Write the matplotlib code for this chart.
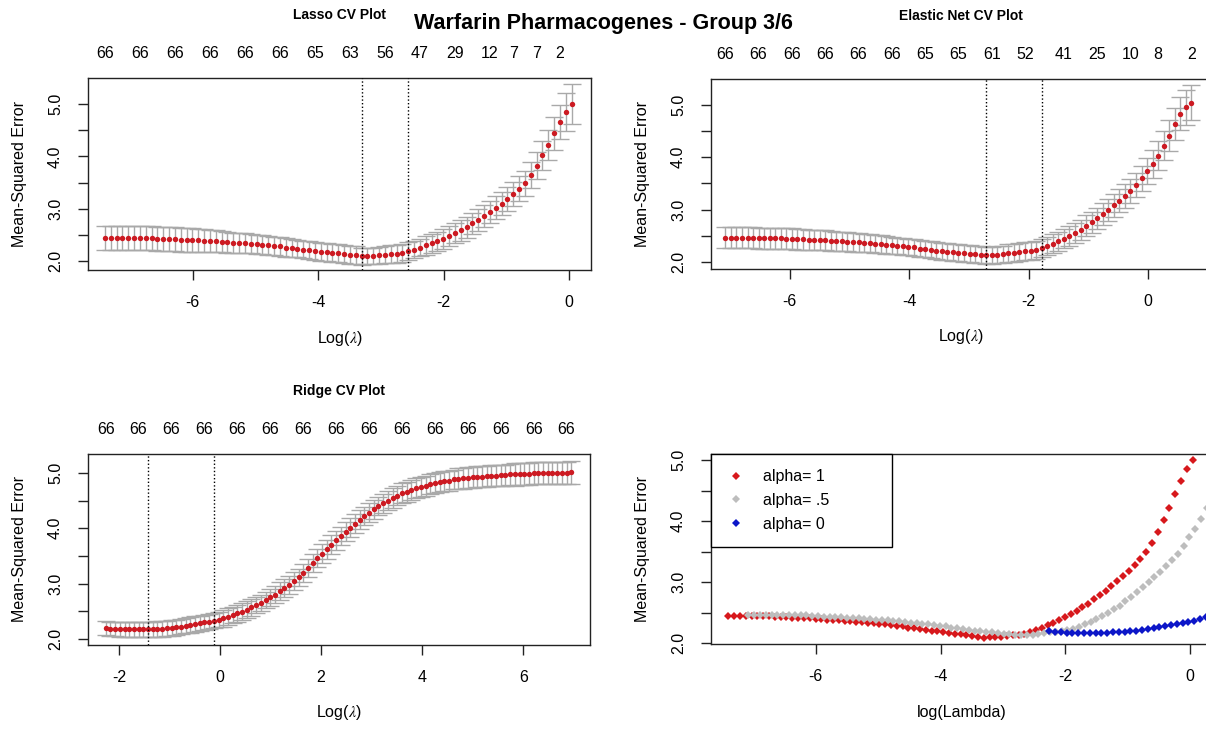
import numpy as np
import matplotlib
matplotlib.use("Agg")
import matplotlib.pyplot as plt

# cv.glmnet results, ordered left -> right (increasing log lambda)
lasso_loglam = np.linspace(-7.40, 0.04, 81)
lasso_cvm = [2.45, 2.45, 2.45, 2.45, 2.45, 2.45, 2.45, 2.45, 2.44,
             2.43, 2.43, 2.42, 2.42, 2.41, 2.41, 2.40, 2.40,
             2.39, 2.39, 2.38, 2.37, 2.36, 2.35, 2.35, 2.34,
             2.33, 2.32, 2.31, 2.30, 2.29, 2.28, 2.26, 2.25,
             2.24, 2.22, 2.21, 2.20, 2.18, 2.17, 2.16, 2.15,
             2.14, 2.12, 2.11, 2.09,
             2.10, 2.10, 2.11, 2.12, 2.13, 2.14, 2.16,
             2.19, 2.22, 2.26, 2.30, 2.34, 2.38, 2.43,
             2.48, 2.53, 2.59, 2.65, 2.72, 2.79, 2.86, 2.94, 3.02, 3.10, 3.19, 3.28, 3.38, 3.49,
             3.64, 3.82, 4.02, 4.22, 4.44, 4.66, 4.85, 5.00]
lasso_cvsd = [0.23, 0.23, 0.23, 0.23, 0.23, 0.23, 0.23, 0.23, 0.23, 0.23, 0.23, 0.23, 0.23, 0.23, 0.23, 0.23,
              0.22, 0.22, 0.21, 0.21, 0.20, 0.20, 0.19, 0.19, 0.19,
              0.18, 0.18, 0.18, 0.18, 0.18, 0.18, 0.18, 0.18,
              0.17, 0.17, 0.17, 0.17, 0.17, 0.17, 0.17, 0.17, 0.17, 0.17, 0.17, 0.17,
              0.16, 0.16, 0.16, 0.16, 0.17, 0.17, 0.17, 0.17,
              0.17, 0.17, 0.18, 0.18, 0.18, 0.19, 0.19, 0.19, 0.20, 0.20,
              0.20, 0.21, 0.21, 0.21, 0.22, 0.22, 0.23, 0.23, 0.24, 0.24,
              0.25, 0.26, 0.27, 0.29, 0.31, 0.33, 0.36, 0.38]
lasso_min, lasso_1se = 44, 52
lasso_nz_idx = [0, 6, 12, 18, 24, 30, 36, 42, 48, 54, 60, 66, 70, 74, 78]
lasso_nz = ["66", "66", "66", "66", "66", "66", "65", "63", "56", "47", "29", "12", "7", "7", "2"]

enet_loglam = np.linspace(-7.08, 0.73, 85)
enet_cvm = [2.47, 2.47, 2.47, 2.47, 2.47, 2.47, 2.46, 2.46, 2.46, 2.46,
            2.46, 2.45, 2.45, 2.44, 2.44, 2.43, 2.43, 2.42, 2.42, 2.41,
            2.40, 2.40, 2.39, 2.38, 2.38, 2.37, 2.36, 2.35, 2.34, 2.33,
            2.32, 2.31, 2.30, 2.29, 2.28, 2.26, 2.25, 2.24, 2.22, 2.21,
            2.20, 2.19, 2.18, 2.17, 2.16, 2.15, 2.14,
            2.13, 2.13, 2.14, 2.15, 2.17, 2.18, 2.19, 2.21, 2.22, 2.24,
            2.27, 2.31, 2.35, 2.40, 2.45, 2.50, 2.56, 2.62, 2.69, 2.76,
            2.84, 2.92, 3.00, 3.08, 3.17, 3.26, 3.36, 3.47, 3.60, 3.74,
            3.87, 4.03, 4.22, 4.41, 4.63, 4.83, 4.95, 5.04]
enet_cvsd = [0.20, 0.20, 0.20, 0.20, 0.20, 0.20, 0.20, 0.20, 0.20, 0.20, 0.20, 0.20, 0.20, 0.20, 0.20,
             0.19, 0.19, 0.19, 0.19, 0.19, 0.18, 0.18, 0.18, 0.18, 0.18, 0.17, 0.17, 0.17, 0.17, 0.17,
             0.16, 0.16, 0.16, 0.16, 0.16, 0.16, 0.16, 0.16, 0.16, 0.16, 0.16, 0.16, 0.16, 0.16, 0.16,
             0.16, 0.16, 0.16, 0.16, 0.16, 0.16, 0.17, 0.17, 0.17, 0.17, 0.17, 0.17,
             0.17, 0.17, 0.18, 0.18, 0.18, 0.19, 0.19, 0.19, 0.20, 0.20,
             0.20, 0.21, 0.21, 0.21, 0.22, 0.22, 0.23, 0.23, 0.24, 0.25,
             0.26, 0.27, 0.28, 0.29, 0.30, 0.31, 0.33, 0.34]
enet_min, enet_1se = 47, 57
enet_nz_idx = [0, 6, 12, 18, 24, 30, 36, 42, 48, 54, 61, 67, 73, 78, 84]
enet_nz = ["66", "66", "66", "66", "66", "66", "65", "65", "61", "52", "41", "25", "10", "8", "2"]

ridge_loglam = np.linspace(-2.26, 6.95, 100)
ridge_cvm = [2.20, 2.18, 2.18, 2.17, 2.17, 2.17, 2.17, 2.17, 2.17, 2.17,
             2.17, 2.18, 2.18, 2.19, 2.20, 2.21, 2.22, 2.24, 2.25, 2.27,
             2.28, 2.30, 2.31, 2.33, 2.35, 2.37, 2.40, 2.43, 2.46, 2.49,
             2.53, 2.57, 2.61, 2.65, 2.70, 2.75, 2.80, 2.86, 2.92, 2.98,
             3.04, 3.11, 3.19, 3.28, 3.37, 3.46, 3.54, 3.62, 3.70, 3.78,
             3.86, 3.94, 4.01, 4.08, 4.15, 4.22, 4.28, 4.34, 4.40, 4.45,
             4.50, 4.55, 4.59, 4.63, 4.66, 4.69, 4.72, 4.75, 4.77, 4.79,
             4.81, 4.83, 4.85, 4.86, 4.88, 4.89, 4.90, 4.91, 4.92, 4.93,
             4.93, 4.94, 4.95, 4.95, 4.96, 4.96, 4.97, 4.97, 4.98, 4.98,
             4.98, 4.99, 4.99, 4.99, 4.99, 5.00, 5.00, 5.00, 5.00, 5.01]
ridge_cvsd = [0.13, 0.13, 0.13, 0.13, 0.13, 0.13, 0.13, 0.13, 0.13, 0.13,
              0.14, 0.14, 0.14, 0.14, 0.14, 0.14, 0.14, 0.14, 0.14, 0.14,
              0.14, 0.14, 0.14, 0.14, 0.14, 0.15, 0.15, 0.15, 0.15, 0.15,
              0.15, 0.15, 0.15, 0.15, 0.15, 0.16, 0.16, 0.16, 0.16, 0.16,
              0.16, 0.16, 0.16, 0.16, 0.16, 0.17, 0.17, 0.17, 0.17, 0.17,
              0.17, 0.17, 0.17, 0.17, 0.17, 0.17, 0.17, 0.17, 0.17, 0.17,
              0.18, 0.18, 0.18, 0.18, 0.18, 0.18, 0.18, 0.18, 0.18, 0.18,
              0.18, 0.18, 0.18, 0.18, 0.18, 0.19, 0.19, 0.19, 0.19, 0.19,
              0.19, 0.19, 0.19, 0.19, 0.19, 0.19, 0.19, 0.20, 0.20, 0.20,
              0.20, 0.20, 0.20, 0.20, 0.20, 0.20, 0.20, 0.20, 0.20, 0.21]
ridge_min, ridge_1se = 9, 23
ridge_nz_idx = [0, 7, 14, 21, 28, 35, 42, 49, 56, 63, 70, 77, 84, 91, 98]
ridge_nz = ["66"] * 15

legend_labels = ["alpha= 1", "alpha= .5", "alpha= 0"]

RED = "#cc1a22"
BAR = "#a9a9a9"
RED4, GREY4, BLUE4 = "#d7181c", "#bdbdbd", "#0c16c8"

plt.rcParams["font.family"] = ["Liberation Sans", "DejaVu Sans"]
plt.rcParams["mathtext.fontset"] = "stix"
plt.rcParams["axes.unicode_minus"] = False

W, H = 1206, 729
fig = plt.figure(figsize=(W / 100, H / 100), dpi=100)


def px_axes(left, top, right, bottom):
    return fig.add_axes([left / W, 1 - bottom / H, (right - left) / W, (bottom - top) / H])


def style(ax, xlim, ylim, xticks, xlabel, box):
    ax.set_xlim(*xlim)
    ax.set_ylim(*ylim)
    ax.set_xticks(xticks)
    ax.set_xticklabels([str(t) for t in xticks])
    ax.set_yticks([2, 3, 4, 5])
    ax.set_yticklabels(["2.0", "3.0", "4.0", "5.0"])
    ax.set_yticks([2.5, 3.5, 4.5], minor=True)
    ax.tick_params(which="both", direction="out", length=7, width=1, color="#222222",
                   labelsize=11.5, pad=11)
    for lab in ax.get_yticklabels():
        lab.set_rotation(90)
        lab.set_va("center")
    for s in ax.spines.values():
        s.set_linewidth(1)
        s.set_color("#222222")
    w = box[2] - box[0]
    h = box[3] - box[1]
    ax.set_xlabel(xlabel, fontsize=11.5, va="center")
    ax.xaxis.set_label_coords(0.5, -68 / h)
    ax.set_ylabel("Mean-Squared Error", fontsize=11.5, va="center")
    ax.yaxis.set_label_coords(-68 / w, 0.5)


def cv_panel(box, loglam, cvm, cvsd, i_min, i_1se, nz_idx, nz, title, xlim, ylim, xticks):
    ax = px_axes(*box)
    ax.errorbar(loglam, cvm, yerr=cvsd, fmt="none", ecolor=BAR, elinewidth=1,
                capsize=6.7, capthick=1, zorder=2)
    ax.plot(loglam, cvm, "o", color=RED, ms=3.9, mew=0, zorder=3)
    for i in (i_min, i_1se):
        ax.axvline(loglam[i], color="black", lw=1, ls=(0, (1, 1.6)), zorder=4)
    style(ax, xlim, ylim, xticks, r"Log($\lambda$)", box)
    top = ax.secondary_xaxis("top")
    top.set_xticks([loglam[i] for i in nz_idx], labels=nz)
    top.tick_params(length=0, pad=12, labelsize=11.5)
    top.spines["top"].set_visible(False)
    cx = (box[0] + box[2]) / 2
    fig.text(cx / W, 1 - (box[1] - 63) / H, title, ha="center", va="center",
             fontsize=10, fontweight="bold")
    return ax


cv_panel((88, 78, 591, 270), lasso_loglam, lasso_cvm, lasso_cvsd, lasso_min, lasso_1se,
         lasso_nz_idx, lasso_nz, "Lasso CV Plot", (-7.67, 0.35), (1.83, 5.50), [-6, -4, -2, 0])
cv_panel((711, 79, 1210, 269), enet_loglam, enet_cvm, enet_cvsd, enet_min, enet_1se,
         enet_nz_idx, enet_nz, "Elastic Net CV Plot", (-7.32, 1.04), (1.87, 5.49), [-6, -4, -2, 0])
cv_panel((88, 454, 590, 645), ridge_loglam, ridge_cvm, ridge_cvsd, ridge_min, ridge_1se,
         ridge_nz_idx, ridge_nz, "Ridge CV Plot", (-2.61, 7.32), (1.89, 5.34), [-2, 0, 2, 4, 6])

# comparison of the three fits
box4 = (711, 454, 1212, 644)
ax4 = px_axes(*box4)
ax4.plot(lasso_loglam, lasso_cvm, "D", color=RED4, ms=4.4, mew=0, label=legend_labels[0])
ax4.plot(enet_loglam, enet_cvm, "D", color=GREY4, ms=4.4, mew=0, label=legend_labels[1])
ax4.plot(ridge_loglam, ridge_cvm, "D", color=BLUE4, ms=4.4, mew=0, label=legend_labels[2])
style(ax4, (-7.68, 0.35), (1.99, 5.10), [-6, -4, -2, 0], "log(Lambda)", box4)
leg = ax4.legend(loc="upper left", bbox_to_anchor=(0, 1, 181 / (box4[2] - box4[0]), 0),
                 mode="expand", borderaxespad=0, fancybox=False, edgecolor="black",
                 framealpha=1, numpoints=1, handlelength=1.2, handletextpad=1.1,
                 labelspacing=0.55, borderpad=0.95, fontsize=11.5)
leg.get_frame().set_linewidth(1)

fig.text(603 / W, 1 - 24 / H, "Warfarin Pharmacogenes - Group 3/6", ha="center", va="center",
         fontsize=15.5, fontweight="bold")

fig.savefig("out.png", dpi=100)
